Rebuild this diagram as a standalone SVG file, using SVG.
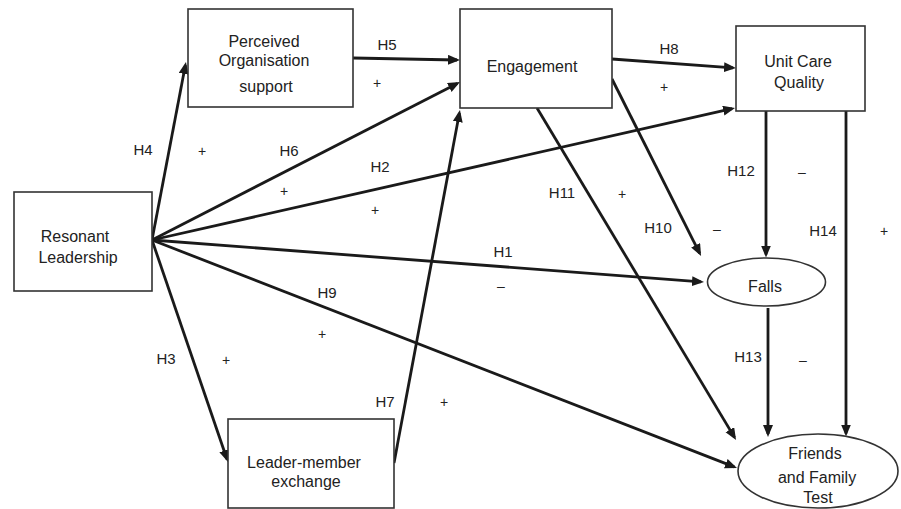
<svg xmlns="http://www.w3.org/2000/svg" width="901" height="509" viewBox="0 0 901 509">
<defs>
<marker id="ah" markerUnits="userSpaceOnUse" markerWidth="14" markerHeight="12" refX="9" refY="5" orient="auto">
<path d="M0,0 L12,5 L0,10 z" fill="#1a1a1a"/>
</marker>
<style>
.node{fill:#fff;stroke:#333;stroke-width:1.6}
.nt{font-family:"Liberation Sans",Arial,sans-serif;font-size:16px;fill:#222;text-anchor:middle}
.lb{font-family:"Liberation Sans",Arial,sans-serif;font-size:15px;fill:#222;text-anchor:middle}
.sg{font-family:"Liberation Sans",Arial,sans-serif;font-size:14px;fill:#222;text-anchor:middle}
.c line{stroke:#1a1a1a;stroke-width:2.8;marker-end:url(#ah)}
</style>
</defs>
<rect width="901" height="509" fill="#fff"/>
<g id="connectors" class="c">
<line x1="152" y1="240" x2="185.4" y2="65"/>
<line x1="152" y1="240" x2="457.3" y2="83.4"/>
<line x1="152" y1="240" x2="732.1" y2="108.7"/>
<line x1="152" y1="240" x2="701" y2="281.8"/>
<line x1="152" y1="240" x2="734.2" y2="466.9"/>
<line x1="152" y1="240" x2="227" y2="459.2"/>
<line x1="394" y1="463" x2="459.4" y2="113"/>
<line x1="353" y1="58" x2="457" y2="60"/>
<line x1="612" y1="59" x2="733" y2="67.8"/>
<line x1="612" y1="79" x2="699.7" y2="253.3"/>
<line x1="537" y1="108" x2="734.5" y2="437.4"/>
<line x1="766" y1="111" x2="766" y2="254.5"/>
<line x1="846" y1="111" x2="846" y2="433.5"/>
<line x1="768" y1="308" x2="768" y2="434"/>
</g>
<g id="pos"><rect class="node" x="188" y="9" width="165" height="98"/>
<text class="nt" x="264" y="47">Perceived</text><text class="nt" x="264" y="66">Organisation</text><text class="nt" x="266" y="92">support</text></g>
<g id="engagement"><rect class="node" x="460" y="9" width="152" height="99"/>
<text class="nt" x="532" y="72">Engagement</text></g>
<g id="ucq"><rect class="node" x="736" y="26" width="129" height="85"/>
<text class="nt" x="798" y="67">Unit Care</text><text class="nt" x="799" y="88">Quality</text></g>
<g id="rl"><rect class="node" x="14" y="192" width="138" height="99"/>
<text class="nt" x="75" y="242">Resonant</text><text class="nt" x="78" y="263">Leadership</text></g>
<g id="lmx"><rect class="node" x="228" y="419" width="166" height="89"/>
<text class="nt" x="304" y="468">Leader-member</text><text class="nt" x="306" y="487">exchange</text></g>
<g id="falls"><ellipse class="node" cx="766.5" cy="282" rx="59" ry="24"/>
<text class="nt" x="765" y="292">Falls</text></g>
<g id="fft"><ellipse class="node" cx="818" cy="471" rx="80" ry="37"/>
<text class="nt" x="815" y="459">Friends</text><text class="nt" x="817" y="483">and Family</text><text class="nt" x="818" y="503">Test</text></g>
<g id="labels">
<text class="lb" x="387" y="50">H5</text><text class="sg" x="377" y="88">+</text>
<text class="lb" x="143" y="155">H4</text><text class="sg" x="202" y="156">+</text>
<text class="lb" x="289" y="156">H6</text><text class="sg" x="284" y="196">+</text>
<text class="lb" x="380" y="172">H2</text><text class="sg" x="375" y="215">+</text>
<text class="lb" x="669" y="54">H8</text><text class="sg" x="664" y="92">+</text>
<text class="lb" x="741" y="176">H12</text><text class="sg" x="802" y="177">–</text>
<text class="lb" x="562" y="198">H11</text><text class="sg" x="622" y="199">+</text>
<text class="lb" x="658" y="233">H10</text><text class="sg" x="717" y="234">–</text>
<text class="lb" x="823" y="236">H14</text><text class="sg" x="884" y="236">+</text>
<text class="lb" x="503" y="257">H1</text><text class="sg" x="501" y="291">–</text>
<text class="lb" x="327" y="298">H9</text><text class="sg" x="322" y="339">+</text>
<text class="lb" x="166" y="364">H3</text><text class="sg" x="226" y="365">+</text>
<text class="lb" x="385" y="407">H7</text><text class="sg" x="444" y="407">+</text>
<text class="lb" x="748" y="362">H13</text><text class="sg" x="803" y="365">–</text>
</g>
</svg>
